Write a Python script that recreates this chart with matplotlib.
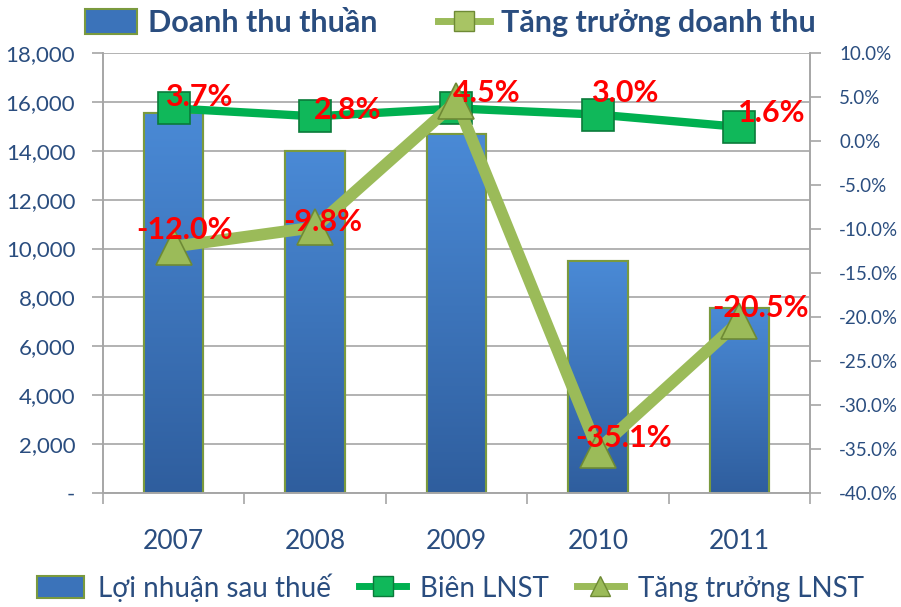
import numpy as np
import matplotlib
matplotlib.use('Agg')
import matplotlib.pyplot as plt
from matplotlib.patches import Patch
from matplotlib.lines import Line2D
from matplotlib.ticker import FuncFormatter, MultipleLocator
from matplotlib.colors import LinearSegmentedColormap

# data
years = ['2007', '2008', '2009', '2010', '2011']
loi_nhuan = [15550, 14000, 14700, 9500, 7550]        # Lợi nhuận sau thuế
bien_lnst = [3.7, 2.8, 3.7, 3.0, 1.6]                # Biên LNST (%)
tang_truong_lnst = [-12.0, -9.8, 4.5, -35.1, -20.5]  # Tăng trưởng LNST (%)
bien_labels = ['3.7%', '2.8%', None, '3.0%', '1.6%']
tang_labels = ['-12.0%', '-9.8%', '4.5%', '-35.1%', '-20.5%']

plt.rcParams['font.family'] = ['Lato', 'DejaVu Sans']
txt_col = '#2A4D7F'
dark_green = '#00B050'
light_green = '#9BBB59'
olive = '#6E8A35'

fig = plt.figure(figsize=(9.01, 6.07), dpi=100)
ax = fig.add_axes([0.1143, 0.1878, 0.7847, 0.7249])
ax2 = ax.twinx()

x = np.arange(len(years))
bars = ax.bar(x, loi_nhuan, width=0.42, color='#3B73BA', edgecolor='#7A9A3E',
              linewidth=1.5, zorder=2)

# vertical gradient on the bars
cmap = LinearSegmentedColormap.from_list('bl', ['#2F5E9E', '#4A8AD6'])
grad = np.linspace(0, 1, 256).reshape(-1, 1)
for b in bars:
    x0, y0 = b.get_x(), b.get_y()
    im = ax.imshow(grad, extent=[x0, x0 + b.get_width(), y0, y0 + b.get_height()],
                   origin='lower', aspect='auto', cmap=cmap, zorder=2.1)
    im.set_clip_path(b)
    ax.bar(b.get_x() + b.get_width() / 2, b.get_height(), width=b.get_width(),
           color='none', edgecolor='#7A9A3E', linewidth=1.5, zorder=2.2)

ax.set_xlim(-0.5, 4.5)
ax.set_ylim(0, 18000)
ax.yaxis.set_major_locator(MultipleLocator(2000))
ax.yaxis.set_major_formatter(FuncFormatter(lambda v, p: '-' if v == 0 else f'{v:,.0f}'))
ax.grid(axis='y', color='#A6A6A6', linewidth=1.2, zorder=0)
ax.set_axisbelow(True)
ax.set_xticks(x)
ax.set_xticklabels(years)
ax.set_xticks(np.arange(-0.5, 5, 1), minor=True)
ax.tick_params(axis='x', which='major', length=0, pad=26, labelsize=19, labelcolor=txt_col)
ax.tick_params(axis='x', which='minor', length=8, color='#A6A6A6', width=1.2)
ax.tick_params(axis='y', length=8, color='#A6A6A6', width=1.2, pad=12,
               labelsize=16, labelcolor=txt_col)

ax2.set_ylim(-40, 10)
ax2.yaxis.set_major_locator(MultipleLocator(5))
ax2.yaxis.set_major_formatter(FuncFormatter(lambda v, p: f'{v:.1f}%'))
ax2.tick_params(axis='y', length=8, color='#A6A6A6', width=1.2, pad=13,
                labelsize=13.5, labelcolor=txt_col)

for a in (ax, ax2):
    a.spines['top'].set_visible(False)
    for s in ['left', 'right', 'bottom']:
        a.spines[s].set_color('#A6A6A6')
        a.spines[s].set_linewidth(1.2)

ax2.plot(x, bien_lnst, color=dark_green, linewidth=6, marker='s', markersize=23,
         markerfacecolor='#10B85A', markeredgecolor='#0A7A3A', markeredgewidth=1.2,
         zorder=3, solid_capstyle='butt')
ax2.plot(x, tang_truong_lnst, color=light_green, linewidth=8.5, marker='^',
         markersize=26, markerfacecolor='#9BBB59', markeredgecolor='#6E8A35',
         markeredgewidth=1.2, zorder=4)

bien_off = [(25, 11), (33, 6), None, (27, 22), (32, 14)]
tang_off = [(11, 17), (8, 5), (30, 8), (26, 12), (21, 13)]
for i in range(len(years)):
    if bien_labels[i] is not None:
        ax2.annotate(bien_labels[i], (x[i], bien_lnst[i]), xytext=bien_off[i],
                     textcoords='offset pixels', ha='center', va='center',
                     color='#FF0000', fontsize=22, fontweight='bold', zorder=6)
    ax2.annotate(tang_labels[i], (x[i], tang_truong_lnst[i]), xytext=tang_off[i],
                 textcoords='offset pixels', ha='center', va='center',
                 color='#FF0000', fontsize=22, fontweight='bold', zorder=6)

# top legend
top_handles = [Patch(facecolor='#3B73BA', edgecolor='#7A9A3E', linewidth=1.5),
               Line2D([], [], color=light_green, linewidth=5, marker='s', markersize=14,
                      markerfacecolor='#A8C464', markeredgecolor=olive)]
fig.legend(top_handles, ['Doanh thu thuần', 'Tăng trưởng doanh thu'],
           loc='center', bbox_to_anchor=(0.5, 0.962), ncol=2, frameon=False,
           prop={'size': 22, 'weight': 'bold'}, labelcolor=txt_col,
           handlelength=1.7, handleheight=0.85, columnspacing=2.0, handletextpad=0.35)

bot_handles = [Patch(facecolor='#3B73BA', edgecolor='#7A9A3E', linewidth=1.5),
               Line2D([], [], color=dark_green, linewidth=5, marker='s', markersize=14,
                      markerfacecolor='#10B85A', markeredgecolor='#0A7A3A'),
               Line2D([], [], color=light_green, linewidth=5, marker='^', markersize=15,
                      markerfacecolor='#9BBB59', markeredgecolor=olive)]
fig.legend(bot_handles, ['Lợi nhuận sau thuế', 'Biên LNST', 'Tăng trưởng LNST'],
           loc='center', bbox_to_anchor=(0.5, 0.032), ncol=3, frameon=False,
           prop={'size': 20}, labelcolor=txt_col,
           handlelength=1.7, handleheight=0.85, columnspacing=1.0, handletextpad=0.5)

fig.savefig('out.png', dpi=100)
